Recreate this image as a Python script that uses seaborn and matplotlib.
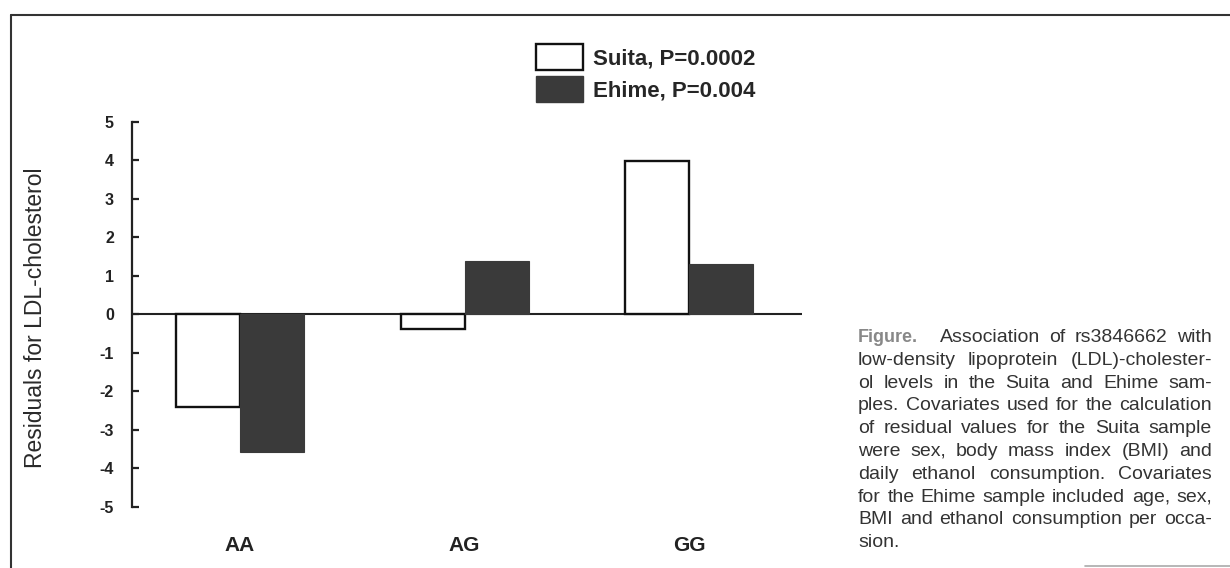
import pandas as pd
import seaborn as sns
import matplotlib.pyplot as plt
from matplotlib.patches import Patch
from matplotlib.lines import Line2D

# --- data ---
genotypes = ["AA", "AG", "GG"]
suita = [-2.41, -0.39, 3.97]
ehime = [-3.59, 1.38, 1.31]
series_names = ["Suita", "Ehime"]
legend_labels = ["Suita, P=0.0002", "Ehime, P=0.004"]
y_ticks = [5, 4, 3, 2, 1, 0, -1, -2, -3, -4, -5]

caption_lines = [
    "Association of rs3846662 with",
    "low-density lipoprotein (LDL)-cholester-",
    "ol levels in the Suita and Ehime sam-",
    "ples. Covariates used for the calculation",
    "of residual values for the Suita sample",
    "were sex, body mass index (BMI) and",
    "daily ethanol consumption. Covariates",
    "for the Ehime sample included age, sex,",
    "BMI and ethanol consumption per occa-",
    "sion.",
]

df = pd.DataFrame({
    "genotype": genotypes * 2,
    "sample": [series_names[0]] * 3 + [series_names[1]] * 3,
    "residual": suita + ehime,
})

W, H = 1230, 568
DARK = "#3a3a3a"

sns.set_theme(style="white")
plt.rcParams["font.family"] = ["Liberation Sans", "DejaVu Sans"]

fig = plt.figure(figsize=(W / 100, H / 100), dpi=100)
ax = fig.add_axes([132 / W, 1 - 506.7 / H, 670 / W, 385 / H])

sns.barplot(data=df, x="genotype", y="residual", hue="sample",
            palette={"Suita": "white", "Ehime": DARK},
            width=0.57, gap=0, legend=False, ax=ax, zorder=2)

for bar in ax.containers[0]:
    bar.set_edgecolor("#111111")
    bar.set_linewidth(1.7)
for bar in ax.containers[1]:
    bar.set_edgecolor(DARK)
    bar.set_linewidth(0.8)

ax.axhline(0, color="#222222", lw=1.5, zorder=1)

ax.set_ylim(-5, 5)
ax.set_xlim(-0.481, 2.503)
ax.set_yticks(y_ticks)
ax.set_yticklabels([str(t) for t in y_ticks], fontweight="bold", fontsize=11.5, color="#222222")
ax.tick_params(axis="y", direction="in", length=5, width=1.6, color="#222222", pad=13, left=True)
ax.tick_params(axis="x", length=0, pad=21)
for lab in ax.get_xticklabels():
    lab.set_fontweight("bold")
    lab.set_fontsize(15)
    lab.set_color("#222222")

ax.set_xlabel("")
ax.set_ylabel("Residuals for LDL-cholesterol", fontsize=16.5, color="#2a2a2a")
ax.yaxis.set_label_coords(-0.127, 0.49)

for side in ["top", "right", "bottom"]:
    ax.spines[side].set_visible(False)
ax.spines["left"].set_color("#222222")
ax.spines["left"].set_linewidth(1.6)

# --- legend ---
handles = [Patch(facecolor="white", edgecolor="#111111", linewidth=1.7),
           Patch(facecolor=DARK, edgecolor=DARK)]
fig.legend(handles, legend_labels, loc="upper left",
           bbox_to_anchor=(525 / W, 1 - 33 / H), bbox_transform=fig.transFigure,
           frameon=False, borderpad=0, handlelength=2.1, handleheight=1.4,
           handletextpad=0.45, labelspacing=0.3,
           prop={"weight": "bold", "size": 16})

# --- caption, justified ---
x0, x1 = 858, 1212
base0, step = 342, 22.8
fig.canvas.draw()
renderer = fig.canvas.get_renderer()

def px(x, y):
    return x / W, 1 - y / H

for i, line in enumerate(caption_lines):
    yb = base0 + step * i
    words = line.split(" ")
    items = []
    if i == 0:
        t = fig.text(*px(x0, yb), "Figure.", fontsize=13, fontweight="bold",
                     color="#888888", va="baseline")
        items.append((t, 12))
    for w in words:
        t = fig.text(*px(x0, yb), w, fontsize=14, color="#333333", va="baseline")
        items.append((t, 0))
    widths = [t.get_window_extent(renderer).width for t, _ in items]
    extra = sum(e for _, e in items)
    if i == len(caption_lines) - 1:
        gap = 4.5
    else:
        gap = (x1 - x0 - sum(widths) - extra) / (len(items) - 1)
    x = x0
    for (t, e), wd in zip(items, widths):
        t.set_position(px(x, yb))
        x += wd + gap + e

# --- outer frame ---
fig.add_artist(Line2D([11 / W, 1], [1 - 15 / H] * 2, transform=fig.transFigure,
                      color="#333333", lw=1.5))
fig.add_artist(Line2D([11 / W] * 2, [1 - 15 / H, 0], transform=fig.transFigure,
                      color="#333333", lw=1.5))
fig.add_artist(Line2D([1085 / W, 1], [1 - 566 / H] * 2, transform=fig.transFigure,
                      color="#aaaaaa", lw=1.2))

plt.savefig("out.png", dpi=100)
